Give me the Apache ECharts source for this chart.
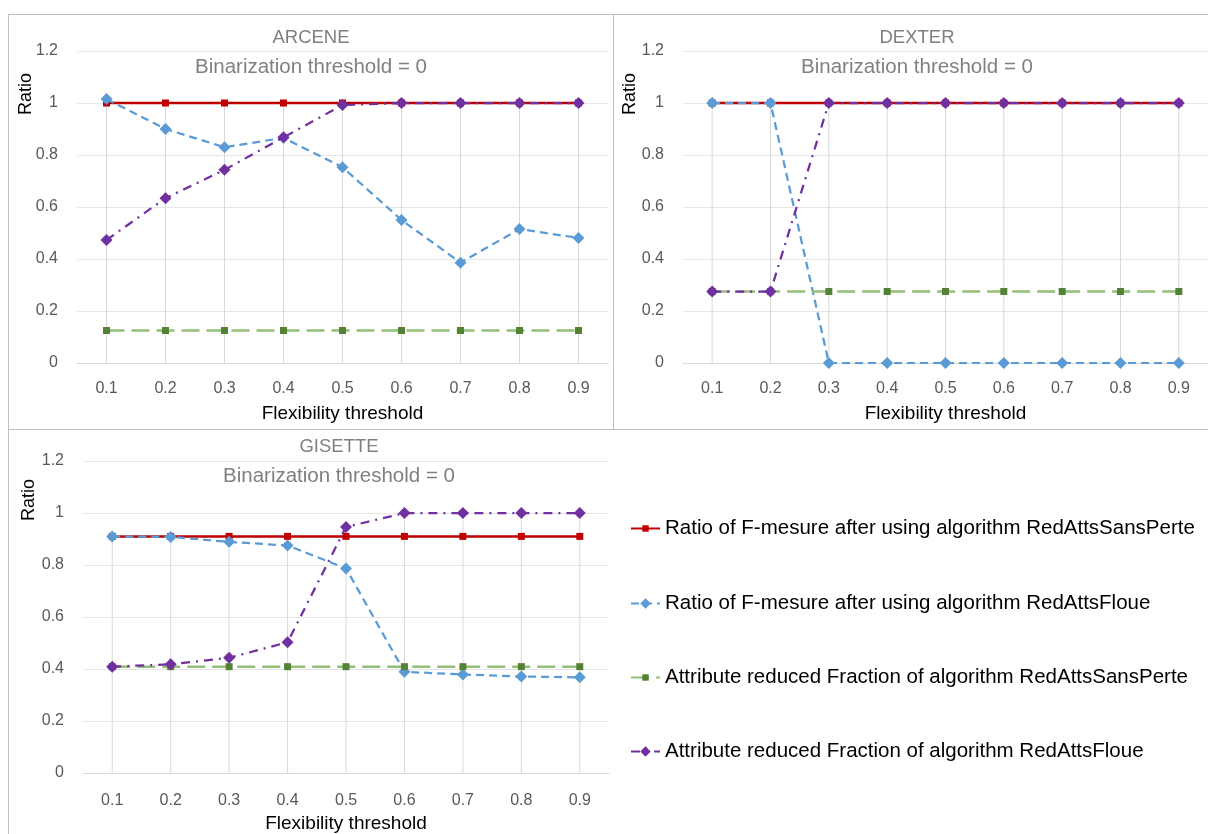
<!DOCTYPE html>
<html>
<head>
<meta charset="utf-8">
<script src="https://cdn.jsdelivr.net/npm/echarts@6/dist/echarts.min.js"></script>
<style>html,body{margin:0;padding:0;background:#fff}#c{width:1208px;height:834px}</style>
</head>
<body>
<div id="c"></div>
<script>
const categories = ['0.1','0.2','0.3','0.4','0.5','0.6','0.7','0.8','0.9'];
const seriesNames = [
  'Ratio of F-mesure after using algorithm RedAttsSansPerte',
  'Ratio of F-mesure after using algorithm RedAttsFloue',
  'Attribute reduced Fraction of algorithm RedAttsSansPerte',
  'Attribute reduced Fraction of algorithm RedAttsFloue'
];
const panelTitles = ['ARCENE', 'DEXTER', 'GISETTE'];
const panelSubtitle = 'Binarization threshold = 0';
const xAxisTitle = 'Flexibility threshold';
const yAxisTitle = 'Ratio';

// ARCENE
const arceneSansPerteF    = [1, 1, 1, 1, 1, 1, 1, 1, 1];
const arceneFloueF        = [1.015, 0.90, 0.83, 0.866, 0.753, 0.55, 0.386, 0.515, 0.481];
const arceneSansPerteFrac = [0.125, 0.125, 0.125, 0.125, 0.125, 0.125, 0.125, 0.125, 0.125];
const arceneFloueFrac     = [0.473, 0.634, 0.743, 0.868, 0.992, 1, 1, 1, 1];
// DEXTER
const dexterSansPerteF    = [1, 1, 1, 1, 1, 1, 1, 1, 1];
const dexterFloueF        = [1, 1, 0, 0, 0, 0, 0, 0, 0];
const dexterSansPerteFrac = [0.275, 0.275, 0.275, 0.275, 0.275, 0.275, 0.275, 0.275, 0.275];
const dexterFloueFrac     = [0.275, 0.275, 1, 1, 1, 1, 1, 1, 1];
// GISETTE
const gisetteSansPerteF    = [0.91, 0.91, 0.91, 0.91, 0.91, 0.91, 0.91, 0.91, 0.91];
const gisetteFloueF        = [0.91, 0.908, 0.889, 0.875, 0.787, 0.389, 0.379, 0.371, 0.368];
const gisetteSansPerteFrac = [0.409, 0.409, 0.409, 0.409, 0.409, 0.409, 0.409, 0.409, 0.409];
const gisetteFloueFrac     = [0.409, 0.418, 0.443, 0.503, 0.946, 1, 1, 1, 1];

const panels = [
  [arceneSansPerteF, arceneFloueF, arceneSansPerteFrac, arceneFloueFrac],
  [dexterSansPerteF, dexterFloueF, dexterSansPerteFrac, dexterFloueFrac],
  [gisetteSansPerteF, gisetteFloueF, gisetteSansPerteFrac, gisetteFloueFrac]
];

const FONT = '"Liberation Sans", Arial, sans-serif';
const grids = [
  {left: 77, top: 51, width: 531, height: 312},
  {left: 683, top: 51, width: 531, height: 312},
  {left: 83, top: 461, width: 526, height: 314}
];
const titleX = [311, 917, 339];
const titleY = [27, 27, 436];
const ratioPos = [[26, 94], [630, 94], [29, 500]];
const legendRowY = [528, 603, 677, 751];

const styles = [
  {line: {color: '#C00000', width: 2.5, type: 'solid'}, item: {color: '#C00000'}, symbol: 'rect', size: 7, legendH: 8},
  {line: {color: '#5B9BD5', width: 2.25, type: [8, 5]}, item: {color: '#5B9BD5'}, symbol: 'diamond', size: 12, legendH: 13},
  {line: {color: '#93BF78', width: 2.5, type: [18, 7]}, item: {color: '#548235'}, symbol: 'rect', size: 7, legendH: 8},
  {line: {color: '#7030A0', width: 2.25, type: [9, 6, 2, 6]}, item: {color: '#7030A0'}, symbol: 'diamond', size: 12, legendH: 13}
];

const xAxes = [], yAxes = [], series = [], titles = [];
panels.forEach((p, i) => {
  xAxes.push({
    gridIndex: i, type: 'category', data: categories, boundaryGap: true,
    axisLine: {show: true, lineStyle: {color: '#D9D9D9', width: 1}},
    axisTick: {show: false},
    axisLabel: {color: '#595959', fontSize: 16, margin: i === 2 ? 20 : 18, fontFamily: FONT},
    splitLine: {show: false},
    name: xAxisTitle, nameLocation: 'middle', nameGap: 41,
    nameTextStyle: {color: '#000', fontSize: 19, fontFamily: FONT}
  });
  yAxes.push({
    gridIndex: i, type: 'value', min: 0, max: 1.2, interval: 0.2,
    axisLine: {show: false}, axisTick: {show: false},
    axisLabel: {color: '#595959', fontSize: 16, margin: 19, fontFamily: FONT},
    splitLine: {lineStyle: {color: '#E6E6E6', width: 1}}
  });
  // drop lines from the highest point of each category down to the axis
  const dropTop = categories.map((c, k) => Math.max(p[0][k], p[1][k], p[2][k], p[3][k]));
  series.push({
    type: 'bar', xAxisIndex: i, yAxisIndex: i, data: dropTop, barWidth: 1,
    itemStyle: {color: '#D9D9D9'}, silent: true, z: 1, legendHoverLink: false
  });
  p.forEach((d, s) => {
    const st = styles[s];
    series.push({
      name: seriesNames[s], type: 'line', xAxisIndex: i, yAxisIndex: i, data: d,
      symbol: st.symbol, symbolSize: st.size, showSymbol: true,
      lineStyle: st.line, itemStyle: st.item, z: 2 + s
    });
  });
  titles.push({
    text: panelTitles[i], subtext: panelSubtitle,
    left: titleX[i], top: titleY[i], textAlign: 'center', padding: 0, itemGap: 7,
    textStyle: {color: '#808080', fontSize: 18.5, fontWeight: 'normal', fontFamily: FONT, lineHeight: 22},
    subtextStyle: {color: '#808080', fontSize: 20.5, fontFamily: FONT, lineHeight: 22}
  });
});

const legends = seriesNames.map((name, s) => ({
  orient: 'vertical', left: 630, top: legendRowY[s] - 10, padding: 0,
  itemWidth: 29, itemHeight: styles[s].legendH,
  textStyle: {color: '#000', fontSize: 20.5, fontFamily: FONT, lineHeight: 20},
  data: [name], selectedMode: false
}));

const graphics = [
  {type: 'line', shape: {x1: 8, y1: 14.5, x2: 1208, y2: 14.5}, style: {stroke: '#BFBFBF', lineWidth: 1}},
  {type: 'line', shape: {x1: 8.5, y1: 14, x2: 8.5, y2: 834}, style: {stroke: '#BFBFBF', lineWidth: 1}},
  {type: 'line', shape: {x1: 613.5, y1: 14, x2: 613.5, y2: 429}, style: {stroke: '#BFBFBF', lineWidth: 1}},
  {type: 'line', shape: {x1: 8, y1: 429.5, x2: 1208, y2: 429.5}, style: {stroke: '#BFBFBF', lineWidth: 1}}
];
ratioPos.forEach(pos => {
  graphics.push({
    type: 'text', x: pos[0], y: pos[1], rotation: Math.PI / 2,
    style: {text: yAxisTitle, fill: '#000', font: '18px ' + FONT, textAlign: 'center', textVerticalAlign: 'middle'}
  });
});

const chart = echarts.init(document.getElementById('c'), null, {renderer: 'canvas'});
chart.setOption({
  animation: false,
  backgroundColor: '#fff',
  title: titles,
  grid: grids,
  xAxis: xAxes,
  yAxis: yAxes,
  legend: legends,
  graphic: graphics,
  series: series
});
</script>
</body>
</html>
